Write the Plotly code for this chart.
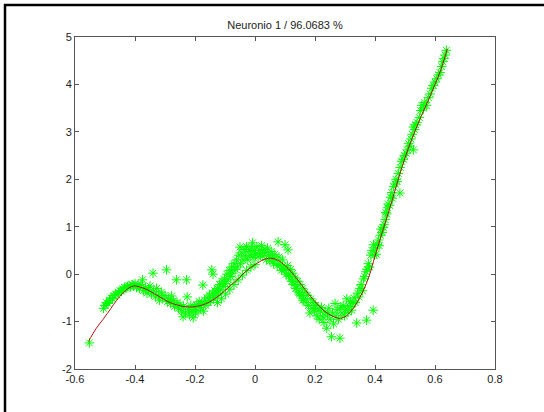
import plotly.graph_objects as go

title_text = "Neuronio 1 / 96.0683 %"
x_ticks = [-0.6, -0.4, -0.2, 0, 0.2, 0.4, 0.6, 0.8]
x_tick_labels = ["-0.6", "-0.4", "-0.2", "0", "0.2", "0.4", "0.6", "0.8"]
y_ticks = [-2, -1, 0, 1, 2, 3, 4, 5]
y_tick_labels = ["-2", "-1", "0", "1", "2", "3", "4", "5"]

# network output (red curve)
curve_x = [-0.555, -0.53, -0.506, -0.48, -0.461, -0.44, -0.42, -0.405, -0.39, -0.37,
           -0.35, -0.32, -0.29, -0.26, -0.23, -0.21, -0.18, -0.15, -0.12, -0.09,
           -0.06, -0.03, 0.00, 0.03, 0.045, 0.06, 0.08, 0.11, 0.14, 0.17,
           0.20, 0.23, 0.26, 0.28, 0.30, 0.32, 0.34, 0.36, 0.38, 0.40,
           0.42, 0.44, 0.46, 0.48, 0.50, 0.52, 0.54, 0.56, 0.58, 0.60,
           0.62, 0.641]
curve_y = [-1.42, -1.15, -0.95, -0.72, -0.55, -0.40, -0.29, -0.25, -0.26, -0.30,
           -0.36, -0.47, -0.58, -0.65, -0.69, -0.69, -0.66, -0.58, -0.45, -0.29,
           -0.12, 0.06, 0.20, 0.31, 0.335, 0.33, 0.28, 0.12, -0.10, -0.35,
           -0.58, -0.77, -0.89, -0.93, -0.90, -0.78, -0.60, -0.36, -0.05, 0.38,
           0.80, 1.20, 1.62, 2.05, 2.45, 2.80, 3.12, 3.42, 3.70, 4.00,
           4.32, 4.75]

# measured samples (green asterisks)
data_x = [
    -0.552, -0.505, -0.500, -0.495, -0.490, -0.485, -0.480, -0.475, -0.470, -0.465,
    -0.460, -0.455, -0.450, -0.445, -0.440, -0.435, -0.430, -0.425, -0.420, -0.415,
    -0.410, -0.405, -0.400, -0.395,
    -0.390, -0.385, -0.380, -0.375, -0.372, -0.365, -0.360, -0.355, -0.350, -0.345,
    -0.340, -0.338, -0.332, -0.328, -0.322, -0.318, -0.312, -0.308, -0.300, -0.295,
    -0.292, -0.288, -0.282, -0.278, -0.272, -0.268, -0.262, -0.260, -0.255, -0.250,
    -0.245, -0.240, -0.238, -0.232, -0.228, -0.226, -0.222, -0.218, -0.214, -0.210,
    -0.206, -0.202,
    -0.198, -0.194, -0.190, -0.186, -0.182, -0.178, -0.174, -0.172, -0.168, -0.164,
    -0.160, -0.156, -0.152, -0.148, -0.144, -0.140, -0.142, -0.138, -0.134, -0.130,
    -0.126, -0.122, -0.118, -0.114, -0.110, -0.106, -0.102, -0.098, -0.094, -0.090,
    -0.086, -0.082, -0.078, -0.074, -0.070, -0.066, -0.062, -0.058, -0.054, -0.050,
    -0.048, -0.044, -0.040, -0.036, -0.032, -0.028, -0.024, -0.020, -0.016, -0.012,
    -0.008, -0.006, -0.002, 0.002, 0.006, 0.010, 0.014, 0.018, 0.022, 0.026,
    0.030, 0.034, 0.038, 0.042, 0.046, 0.050, 0.054, 0.058, 0.062, 0.066,
    0.070, 0.074, 0.077, 0.080, 0.084, 0.088, 0.092, 0.096, 0.100, 0.104,
    0.108, 0.110, 0.114, 0.118,
    -0.125, -0.112, -0.098, -0.084, -0.070, -0.056, -0.042, -0.028, -0.014, 0.000,
    0.090, 0.100, 0.112, 0.124, 0.136, 0.148, 0.160,
    0.122, 0.126, 0.130, 0.134, 0.138, 0.142, 0.146, 0.150, 0.154, 0.158,
    0.162, 0.166, 0.170, 0.174, 0.178, 0.183, 0.186, 0.190, 0.194, 0.198,
    0.202, 0.206, 0.210, 0.214, 0.218, 0.222, 0.226, 0.230, 0.234, 0.239,
    0.242, 0.246, 0.250, 0.255, 0.258, 0.262, 0.267, 0.270, 0.274, 0.278,
    0.283, 0.286, 0.290, 0.294, 0.298, 0.302, 0.306, 0.310, 0.314, 0.318,
    0.322, 0.326,
    0.330, 0.334, 0.339, 0.342, 0.346, 0.350, 0.354, 0.358, 0.362, 0.366,
    0.372, 0.370, 0.374, 0.378, 0.382, 0.386, 0.390, 0.394, 0.395,
    0.398, 0.402, 0.404, 0.408, 0.412, 0.414, 0.418, 0.420, 0.424, 0.428,
    0.430, 0.434, 0.436, 0.439, 0.442, 0.444, 0.448, 0.452, 0.456, 0.458,
    0.462, 0.467, 0.470, 0.474, 0.478, 0.483, 0.484, 0.489, 0.494, 0.498,
    0.504, 0.508, 0.512, 0.517, 0.520, 0.524, 0.528, 0.528, 0.532, 0.536,
    0.540, 0.548, 0.552, 0.556, 0.562, 0.566, 0.572, 0.578, 0.584, 0.589,
    0.594, 0.600, 0.606, 0.612, 0.617, 0.622, 0.626, 0.630, 0.634, 0.638,
]
data_y = [
    -1.45, -0.72, -0.66, -0.60, -0.62, -0.55, -0.50, -0.52, -0.45, -0.42,
    -0.44, -0.38, -0.35, -0.36, -0.31, -0.28, -0.30, -0.26, -0.24, -0.27,
    -0.22, -0.25, -0.20, -0.28,
    -0.24, -0.30, -0.22, -0.12, -0.35, -0.28, -0.40, -0.33, -0.25, -0.42,
    0.02, -0.36, -0.48, -0.30, -0.44, -0.55, -0.38, -0.50, -0.45, 0.09,
    -0.58, -0.52, -0.62, -0.46, -0.56, -0.68, -0.12, -0.60, -0.72, -0.64,
    -0.78, -0.90, -0.68, -0.82, -0.12, -0.48, -0.74, -0.86, -0.66, -0.78,
    -0.92, -0.70,
    -0.82, -0.64, -0.76, -0.58, -0.70, -0.62, -0.23, -0.78, -0.55, -0.66,
    -0.50, -0.60, -0.44, -0.56, 0.09, 0.00, -0.40, -0.50, -0.35, -0.45,
    -0.30, -0.40, -0.22, -0.33, -0.15, -0.26, -0.10, -0.20, 0.00, -0.12,
    0.08, -0.05, 0.15, 0.02, 0.22, 0.10, 0.30, 0.15, 0.40, 0.57,
    0.22, 0.45, 0.30, 0.52, 0.38, 0.58, 0.30, 0.48, 0.40, 0.55,
    0.66, 0.35, 0.50, 0.42, 0.58, 0.36, 0.50, 0.44, 0.60, 0.38,
    0.52, 0.46, 0.30, 0.55, 0.40, 0.28, 0.48, 0.36, 0.22, 0.42,
    0.30, 0.18, 0.68, 0.36, 0.20, 0.08, 0.30, 0.12, 0.62, 0.00,
    0.18, 0.51, -0.05, 0.10,
    -0.60, -0.52, -0.42, -0.32, -0.22, -0.12, -0.02, 0.08, 0.15, 0.20,
    0.15, 0.08, -0.02, -0.15, -0.30, -0.42, -0.55,
    -0.15, 0.02, -0.22, -0.08, -0.30, -0.15, -0.38, -0.22, -0.45, -0.30,
    -0.52, -0.38, -0.60, -0.45, -0.66, -0.82, -0.52, -0.72, -0.60, -0.78,
    -0.66, -0.88, -0.72, -0.95, -0.78, -0.70, -0.90, -1.02, -0.80, -1.14,
    -0.86, -0.72, -0.95, -1.32, -0.82, -1.05, -0.62, -0.88, -0.75, -0.95,
    -1.35, -0.70, -0.82, -0.66, -0.88, -0.74, -0.52, -0.80, -0.68, -0.58,
    -0.76, -0.62,
    -0.50, -0.60, -1.03, -0.40, -0.48, -0.30, -0.22, -0.35, -0.10, -0.05,
    -0.97, 0.05, 0.10, 0.22, 0.15, 0.40, 0.50, -0.76, 0.62,
    0.40, 0.55, 0.42, 0.62, 0.72, 0.60, 0.82, 0.95, 0.88, 0.98,
    1.05, 1.15, 1.30, 1.27, 1.40, 1.48, 1.45, 1.62, 1.72, 1.60,
    1.85, 1.90, 2.00, 1.95, 2.12, 1.71, 2.25, 2.38, 2.42, 2.50,
    2.55, 2.62, 2.75, 2.70, 2.85, 2.95, 3.10, 2.62, 3.05, 3.15,
    3.20, 3.30, 3.45, 3.56, 3.50, 3.62, 3.56, 3.72, 3.80, 3.92,
    3.98, 4.05, 4.12, 4.20, 4.25, 4.38, 4.48, 4.55, 4.62, 4.72,
]

fig = go.Figure()
fig.add_trace(go.Scatter(
    x=data_x, y=data_y, mode="markers",
    marker=dict(symbol="asterisk-open", size=8, color="#00ff00",
                line=dict(color="#00ff00", width=1)),
    showlegend=False, hoverinfo="skip"))
fig.add_trace(go.Scatter(
    x=curve_x, y=curve_y, mode="lines",
    line=dict(color="rgb(175,20,20)", width=1, shape="spline"),
    showlegend=False, hoverinfo="skip"))

axis_common = dict(
    showline=True, linecolor="#555555", linewidth=1, mirror="ticks",
    ticks="inside", ticklen=4, tickcolor="#555555", tickwidth=1,
    showgrid=False, zeroline=False,
    tickfont=dict(family="Liberation Sans, Arial, sans-serif", size=11, color="#222222"),
)

fig.update_layout(
    width=544, height=412,
    margin=dict(l=75, r=49, t=37, b=43),
    paper_bgcolor="white", plot_bgcolor="white",
    title=dict(text=title_text, x=(75 + 210) / 544, xanchor="center",
               y=1 - 25 / 412, yanchor="middle",
               font=dict(family="Liberation Sans, Arial, sans-serif", size=11, color="#222222")),
    xaxis=dict(range=[-0.6, 0.8], tickvals=x_ticks, ticktext=x_tick_labels, **axis_common),
    yaxis=dict(range=[-2, 5], tickvals=y_ticks, ticktext=y_tick_labels, **axis_common),
    shapes=[
        dict(type="line", xref="paper", yref="paper",
             x0=(4 - 75) / 420, x1=(600 - 75) / 420,
             y0=(369 - 5) / 332, y1=(369 - 5) / 332,
             line=dict(color="black", width=2.5)),
        dict(type="line", xref="paper", yref="paper",
             x0=(5 - 75) / 420, x1=(5 - 75) / 420,
             y0=(369 - 4) / 332, y1=(369 - 420) / 332,
             line=dict(color="black", width=2.5)),
    ],
)

fig.write_html("out.html")
